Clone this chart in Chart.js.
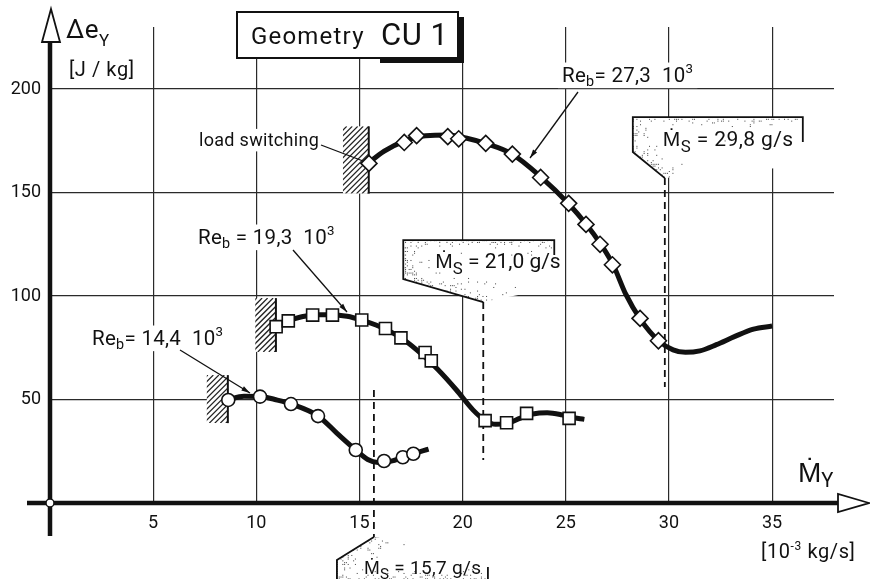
<!DOCTYPE html>
<html>
<head>
<meta charset="utf-8">
<script src="https://cdn.jsdelivr.net/npm/chart.js@4.4.1/dist/chart.umd.min.js"></script>
<style>
  html, body { margin: 0; padding: 0; background: #fff; }
  #wrap { width: 870px; height: 579px; }
</style>
</head>
<body>
<div id="wrap"><canvas id="chartCU1" width="870" height="579"></canvas></div>
<script>
// values (x in 10^-3 kg/s, y in J/kg)
const xTicks = [5, 10, 15, 20, 25, 30, 35];
const yTicks = [50, 100, 150, 200];

// Re_b = 14,4 10^3  (circles)
const circlesX = [8.64, 10.18, 11.68, 12.99, 14.82, 16.19, 17.1, 17.61];
const circlesY = [49.8, 51.4, 47.8, 42.0, 25.6, 20.3, 22.1, 23.8];
const curve14X = [8.6, 9.4, 10.2, 10.9, 11.7, 13.0, 13.9, 14.8, 15.4, 15.9, 16.5, 17.1, 17.6, 18.35];
const curve14Y = [49.8, 51.6, 51.5, 50.0, 47.8, 42.0, 33.8, 25.8, 21.0, 19.6, 20.2, 22.0, 23.8, 26.0];

// Re_b = 19,3 10^3  (squares)
const squaresX = [10.96, 11.55, 12.73, 13.69, 15.11, 16.26, 17.01, 18.18, 18.48, 21.09, 22.13, 23.1, 25.16];
const squaresY = [85.2, 88.0, 90.8, 90.8, 88.4, 84.3, 79.8, 72.7, 68.7, 39.8, 38.8, 43.3, 40.9];
const curve19X = [10.9, 11.5, 12.2, 12.9, 13.7, 14.4, 15.1, 15.8, 16.5, 17.2, 18.0, 18.8, 19.7, 20.5, 21.1, 21.6, 22.2, 22.8, 23.4, 24.1, 24.8, 25.3, 25.9];
const curve19Y = [84.5, 87.8, 90.0, 91.0, 91.0, 90.2, 88.4, 86.0, 82.8, 78.5, 72.0, 64.5, 54.6, 45.0, 39.8, 38.0, 38.6, 41.0, 43.0, 43.6, 42.6, 41.3, 40.4];

// Re_b = 27,3 10^3  (diamonds)
const diamondsX = [15.46, 17.17, 17.77, 19.28, 19.81, 21.12, 22.41, 23.78, 25.14, 25.98, 26.66, 27.26, 28.6, 29.49];
const diamondsY = [164.1, 174.2, 177.5, 177.0, 176.0, 173.8, 168.6, 157.3, 144.8, 134.6, 125.0, 115.1, 89.2, 78.4];
const curve27X = [15.4, 16.2, 17.2, 18.2, 19.3, 20.3, 21.1, 22.4, 23.8, 25.1, 26.0, 26.7, 27.3, 27.9, 28.6, 29.5, 30.2, 30.8, 31.5, 32.3, 33.2, 34.1, 35.0];
const curve27Y = [164.0, 170.0, 175.0, 177.5, 177.8, 176.0, 173.8, 168.6, 157.5, 145.0, 134.6, 125.0, 115.0, 101.0, 89.0, 78.4, 74.0, 72.8, 73.5, 76.5, 80.5, 84.0, 85.5];

// surge mass flows M_S [g/s]
const surgeFlows = [15.7, 21.0, 29.8];

const FONT = 'Roboto, "Liberation Sans", sans-serif';

function pts(xs, ys) { return xs.map((x, i) => ({ x: x, y: ys[i] })); }

function curveSet(xs, ys) {
  return {
    data: pts(xs, ys), showLine: true, borderColor: '#111', borderWidth: 5,
    pointRadius: 0, cubicInterpolationMode: 'monotone', order: 2
  };
}
function markSet(xs, ys, style, r) {
  return {
    data: pts(xs, ys), showLine: false, pointStyle: style, pointRadius: r,
    pointBackgroundColor: '#fff', pointBorderColor: '#111', pointBorderWidth: 1.6, order: 1
  };
}

// text with sub/superscripts: parts = [text, sizeFactor, dy]
function rich(ctx, x, y, parts, size, measureOnly, spacing) {
  let w = 0;
  ctx.letterSpacing = (spacing || 0) + 'px';
  parts.forEach(p => {
    ctx.font = (size * p[1]) + 'px ' + FONT;
    if (!measureOnly) ctx.fillText(p[0], x + w, y + p[2]);
    w += ctx.measureText(p[0]).width;
  });
  ctx.letterSpacing = '0px';
  return w;
}
function richBoxed(ctx, x, y, parts, size, spacing) {
  const w = rich(ctx, x, y, parts, size, true, spacing);
  ctx.fillStyle = '#fff';
  ctx.fillRect(x - 4, y - size * 0.95, w + 8, size * 1.25);
  ctx.fillStyle = '#111';
  rich(ctx, x, y, parts, size, false, spacing);
}

function hatch(ctx, x0, x1, y0, y1) {
  ctx.save();
  ctx.fillStyle = '#fff';
  ctx.fillRect(x0, y0, x1 - x0, y1 - y0);
  ctx.beginPath(); ctx.rect(x0, y0, x1 - x0, y1 - y0); ctx.clip();
  ctx.strokeStyle = '#222'; ctx.lineWidth = 1.3;
  for (let k = -80; k < 120; k += 5.5) {
    ctx.beginPath();
    ctx.moveTo(x0 + k, y1);
    ctx.lineTo(x0 + k + (y1 - y0), y0);
    ctx.stroke();
  }
  ctx.restore();
  ctx.strokeStyle = '#111'; ctx.lineWidth = 2;
  ctx.beginPath(); ctx.moveTo(x1, y0); ctx.lineTo(x1, y1); ctx.stroke();
}

// stippled flag (deterministic dot texture near the drawn edges)
function stipple(ctx, poly, edges) {
  ctx.save();
  ctx.beginPath();
  poly.forEach((p, i) => i ? ctx.lineTo(p[0], p[1]) : ctx.moveTo(p[0], p[1]));
  ctx.closePath();
  ctx.fillStyle = '#fff'; ctx.fill();
  ctx.clip();
  const xs = poly.map(p => p[0]), ys = poly.map(p => p[1]);
  const minX = Math.min(...xs), maxX = Math.max(...xs), minY = Math.min(...ys), maxY = Math.max(...ys);
  ctx.fillStyle = '#444';
  for (let x = minX; x < maxX; x += 1.8) {
    for (let y = minY; y < maxY; y += 1.8) {
      let d = 1e9;
      edges.forEach(e => {
        const ax = e[0], ay = e[1], bx = e[2], by = e[3], wgt = e[4] || 1;
        const vx = bx - ax, vy = by - ay;
        let t = ((x - ax) * vx + (y - ay) * vy) / (vx * vx + vy * vy);
        t = Math.max(0, Math.min(1, t));
        const dx = x - (ax + t * vx), dy = y - (ay + t * vy);
        d = Math.min(d, Math.sqrt(dx * dx + dy * dy) / wgt);
      });
      const dens = 0.42 * Math.exp(-d / 6);
      const h = Math.abs(Math.sin(x * 12.9898 + y * 78.233) * 43758.5453) % 1;
      if (h < dens) ctx.fillRect(x, y, 1, 1);
    }
  }
  ctx.restore();
}

function line(ctx, pts, w, dash) {
  ctx.save();
  ctx.strokeStyle = '#111'; ctx.lineWidth = w;
  if (dash) ctx.setLineDash(dash);
  ctx.beginPath();
  pts.forEach((p, i) => i ? ctx.lineTo(p[0], p[1]) : ctx.moveTo(p[0], p[1]));
  ctx.stroke();
  ctx.restore();
}

function leader(ctx, x0, y0, x1, y1, arrow) {
  line(ctx, [[x0, y0], [x1, y1]], 1.3);
  if (!arrow) return;
  const a = Math.atan2(y1 - y0, x1 - x0);
  ctx.save();
  ctx.fillStyle = '#111';
  ctx.beginPath();
  ctx.moveTo(x1, y1);
  ctx.lineTo(x1 - 9 * Math.cos(a - 0.28), y1 - 9 * Math.sin(a - 0.28));
  ctx.lineTo(x1 - 9 * Math.cos(a + 0.28), y1 - 9 * Math.sin(a + 0.28));
  ctx.closePath(); ctx.fill();
  ctx.restore();
}

const decor = {
  id: 'decor',
  beforeDatasetsDraw(chart) {
    const ctx = chart.ctx, sx = chart.scales.x, sy = chart.scales.y;
    const X = v => sx.getPixelForValue(v), Y = v => sy.getPixelForValue(v);
    ctx.save();
    ctx.textBaseline = 'alphabetic';

    // load switching hatches
    hatch(ctx, X(14.2), X(15.45), Y(182), Y(149.5));
    hatch(ctx, X(9.95), X(10.95), Y(99), Y(73));
    hatch(ctx, X(7.6), X(8.62), Y(61.8), Y(38.6));

    // M_S = 29,8 g/s
    let xs = X(surgeFlows[2]);
    stipple(ctx, [[xs - 32, Y(186.5)], [xs + 138, Y(186.5)], [xs + 138, Y(163)], [xs, Y(157)], [xs - 32, Y(169.6)]],
      [[xs - 32, Y(186.5), xs + 138, Y(186.5), 0.6], [xs - 32, Y(186.5), xs - 32, Y(169.6), 1.3], [xs - 32, Y(169.6), xs, Y(157), 1.1]]);
    line(ctx, [[xs + 138, Y(174.4)], [xs + 138, Y(186.5)], [xs - 32, Y(186.5)], [xs - 32, Y(169.6)], [xs, Y(157)]], 1.8);
    line(ctx, [[xs, Y(157)], [xs, Y(56)]], 1.8, [7, 5]);
    ctx.fillStyle = '#111';
    rich(ctx, xs - 2, Y(186.5) + 29, [['Ṁ', 1, 0], ['S', 0.8, 6], [' = 29,8 g/s', 1, 0]], 21, false, 0.4);

    // M_S = 21,0 g/s
    xs = X(surgeFlows[1]);
    stipple(ctx, [[xs - 80, Y(127)], [xs + 71, Y(127)], [xs + 71, Y(104)], [xs, Y(97.1)], [xs - 80, Y(108.2)]],
      [[xs - 80, Y(127), xs + 71, Y(127), 0.6], [xs - 80, Y(127), xs - 80, Y(108.2), 1.3], [xs - 80, Y(108.2), xs, Y(97.1), 1.2]]);
    line(ctx, [[xs + 71, Y(119.8)], [xs + 71, Y(127)], [xs - 80, Y(127)], [xs - 80, Y(108.2)], [xs, Y(97.1)]], 1.8);
    line(ctx, [[xs, Y(97.1)], [xs, Y(20.8)]], 1.8, [7, 5]);
    ctx.fillStyle = '#111';
    rich(ctx, xs - 48, Y(127) + 28, [['Ṁ', 1, 0], ['S', 0.8, 6], [' = 21,0 g/s', 1, 0]], 21, false, 0);

    // M_S = 15,7 g/s (below the axis)
    xs = X(surgeFlows[0]);
    stipple(ctx, [[xs, Y(-16.4)], [xs + 114, Y(-25)], [xs + 114, 579], [xs - 37, 579], [xs - 37, Y(-27.5)]],
      [[xs, Y(-16.4), xs - 37, Y(-27.5), 1.2], [xs - 37, Y(-27.5), xs - 37, 579, 1.2], [xs - 37, 578, xs + 114, 578, 0.5]]);
    line(ctx, [[xs, Y(-16.4)], [xs - 37, Y(-27.5)], [xs - 37, 579]], 1.8);
    line(ctx, [[xs + 114, 567], [xs + 114, 579]], 1.8);
    line(ctx, [[xs, Y(54.6)], [xs, Y(-16.4)]], 1.8, [7, 5]);
    ctx.fillStyle = '#111';
    rich(ctx, xs - 10, 574, [['Ṁ', 1, 0], ['S', 0.8, 5], [' = 15,7 g/s', 1, 0]], 19, false, 0.3);

    // curve labels
    richBoxed(ctx, 562, 82, [['Re', 1, 0], ['b', 0.7, 4], ['= 27,3  10', 1, 0], ['3', 0.65, -9]], 20.5, 0.3);
    richBoxed(ctx, 198, 244, [['Re', 1, 0], ['b', 0.7, 4], [' = 19,3  10', 1, 0], ['3', 0.65, -9]], 20.5, 0.3);
    richBoxed(ctx, 92, 345, [['Re', 1, 0], ['b', 0.7, 4], ['= 14,4  10', 1, 0], ['3', 0.65, -9]], 20.5, 0.3);
    richBoxed(ctx, 199, 146, [['load switching', 1, 0]], 18, 0.3);

    leader(ctx, 578, 92, 530, 158, true);
    leader(ctx, 293, 250, 347, 312, true);
    leader(ctx, 180, 350, 250, 393, true);
    leader(ctx, 321, 145, 363, 161, false);
    ctx.restore();
  },
  afterDatasetsDraw(chart) {
    const ctx = chart.ctx, sx = chart.scales.x, sy = chart.scales.y;
    const x0 = sx.getPixelForValue(0), y0 = sy.getPixelForValue(0);
    ctx.save();
    ctx.strokeStyle = '#111'; ctx.fillStyle = '#111';

    // axes
    line(ctx, [[x0, 41], [x0, 536]], 4.5);
    line(ctx, [[27, y0], [840, y0]], 4.5);
    ctx.lineWidth = 1.8; ctx.fillStyle = '#fff';
    ctx.beginPath(); ctx.moveTo(x0 + 1, 9); ctx.lineTo(x0 + 10, 42); ctx.lineTo(x0 - 8, 42); ctx.closePath();
    ctx.fill(); ctx.stroke();
    ctx.beginPath(); ctx.moveTo(869, y0); ctx.lineTo(838, y0 - 9); ctx.lineTo(838, y0 + 9); ctx.closePath();
    ctx.fill(); ctx.stroke();
    ctx.beginPath(); ctx.arc(x0, y0, 4, 0, Math.PI * 2); ctx.fill(); ctx.lineWidth = 1.5; ctx.stroke();

    // axis titles
    ctx.fillStyle = '#111';
    rich(ctx, 66, 38, [['Δe', 1, 0], ['Y', 0.65, 8]], 26, false, 0.5);
    rich(ctx, 69, 76, [['[J / kg]', 1, 0]], 20, false, 0.6);
    rich(ctx, 798, 482, [['Ṁ', 1, 0], ['Y', 0.72, 5]], 28);
    rich(ctx, 761, 558, [['[10', 1, 0], ['-3', 0.6, -8], [' kg/s]', 1, 0]], 20, false, 0.6);

    // title box
    ctx.fillStyle = '#111';
    ctx.fillRect(380, 57, 84, 6);
    ctx.fillRect(458, 17, 6, 46);
    ctx.fillStyle = '#fff';
    ctx.fillRect(237, 12, 221, 46);
    ctx.lineWidth = 2; ctx.strokeRect(237, 12, 221, 46);
    ctx.fillStyle = '#111';
    rich(ctx, 251, 44, [['Geometry', 1, 0]], 24, false, 1.2);
    rich(ctx, 381, 45, [['CU 1', 1, 0]], 31, false, 0.5);
    ctx.restore();
  }
};

const tickFilter = s => { s.ticks = s.ticks.filter(t => t.value > 0 && t.value % 5 === 0 && (s.axis === 'x' || t.value % 50 === 0)); };

new Chart(document.getElementById('chartCU1').getContext('2d'), {
  type: 'scatter',
  data: {
    datasets: [
      markSet(diamondsX, diamondsY, 'rectRot', 8),
      markSet(squaresX, squaresY, 'rect', 8.5),
      markSet(circlesX, circlesY, 'circle', 6.5),
      curveSet(curve27X, curve27Y),
      curveSet(curve19X, curve19Y),
      curveSet(curve14X, curve14Y)
    ]
  },
  options: {
    responsive: false,
    animation: false,
    devicePixelRatio: 1,
    layout: { padding: { top: 27, right: 36, left: 0, bottom: 0 } },
    plugins: { legend: { display: false }, tooltip: { enabled: false } },
    scales: {
      x: {
        type: 'linear', min: 0, max: 38,
        afterBuildTicks: tickFilter,
        afterFit: s => { s.height = 76; },
        grid: { color: '#2a2a2a', lineWidth: 1.2, drawTicks: false },
        border: { display: false },
        ticks: { stepSize: 5, padding: 10, color: '#111', font: { family: FONT, size: 18 } }
      },
      y: {
        type: 'linear', min: 0, max: 230,
        afterBuildTicks: tickFilter,
        afterFit: s => { s.width = 50; },
        grid: { color: '#2a2a2a', lineWidth: 1.2, drawTicks: false },
        border: { display: false },
        ticks: { stepSize: 50, padding: 9, color: '#111', font: { family: FONT, size: 18 } }
      }
    }
  },
  plugins: [decor]
});
</script>
</body>
</html>
